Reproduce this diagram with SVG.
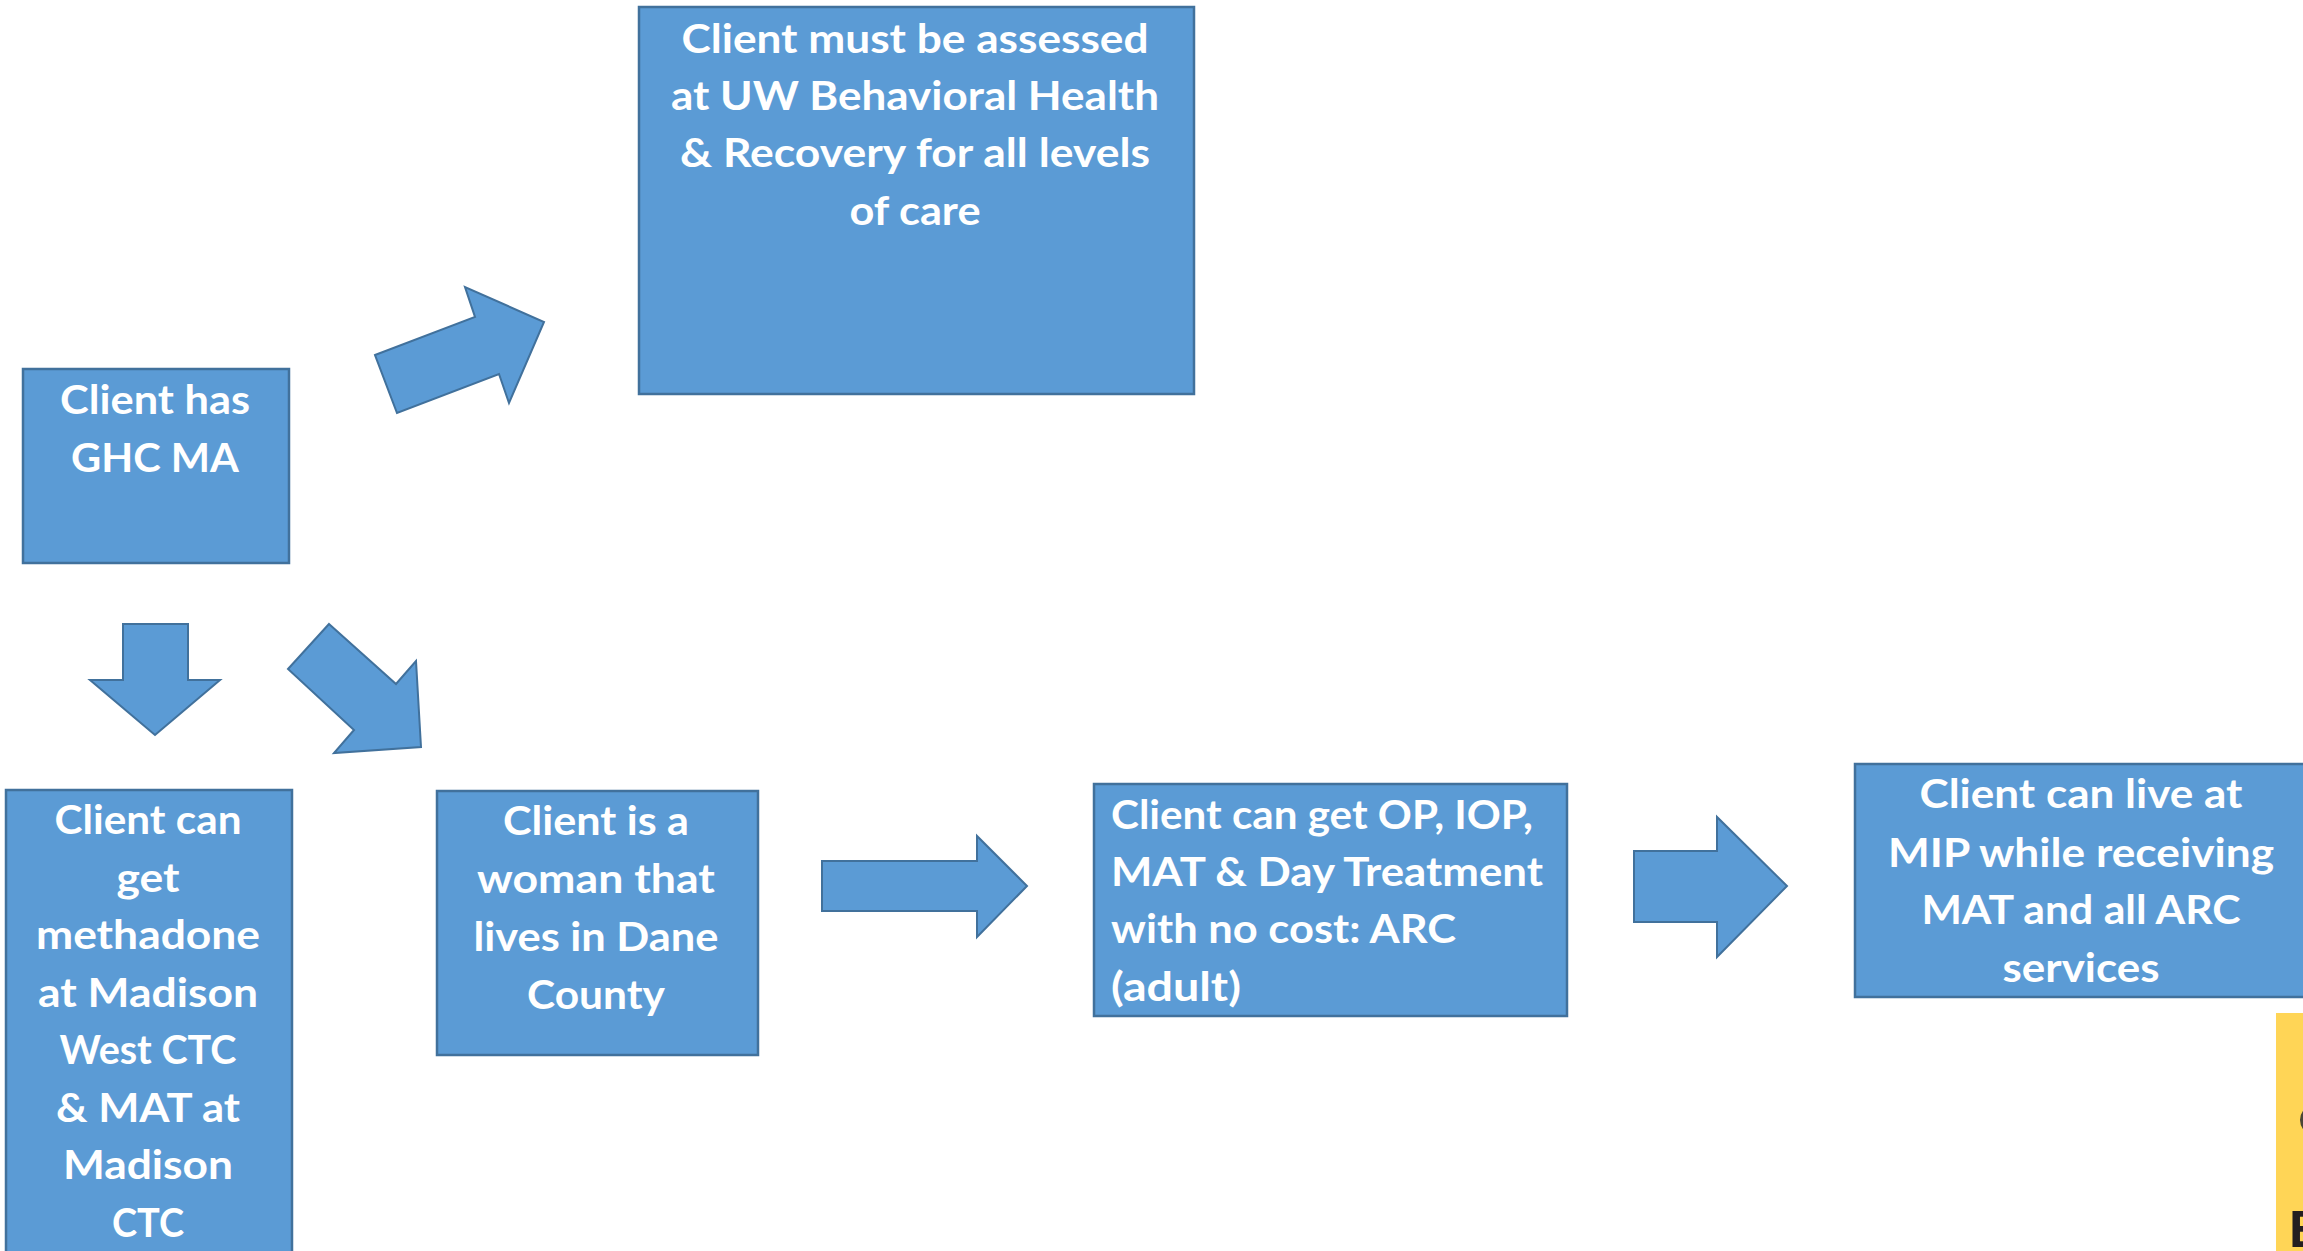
<svg xmlns="http://www.w3.org/2000/svg" width="2303" height="1251" viewBox="0 0 2303 1251">
<style>
.box{fill:#5B9BD5;stroke:#41719C;stroke-width:2.5}
.arrow{fill:#5B9BD5;stroke:#41719C;stroke-width:2;stroke-linejoin:miter}
.t{fill:#FFFFFF;font-family:Lato,"Open Sans","Liberation Sans",sans-serif;font-weight:700;font-size:40px}
.c{text-anchor:middle}
</style>
<rect x="0" y="0" width="2303" height="1251" fill="#FFFFFF"/>
<g id="connectors">
<polygon class="arrow" points="375,355 475,317 465,287 544,322 509,403 499,374 397,413"/>
<polygon class="arrow" points="123,624 188,624 188,680 220,680 155,735 90,680 123,680"/>
<polygon class="arrow" points="329,624 396,684 416,661 421,747 334,753 354,730 288,669"/>
<polygon class="arrow" points="822,861 977,861 977,836 1027,886 977,937 977,911 822,911"/>
<polygon class="arrow" points="1634,851 1717,851 1717,817 1787,886 1717,957 1717,922 1634,922"/>
</g>
<g id="node-ghc">
<rect class="box" x="23" y="369" width="266" height="194"/>
<text class="t c" x="155" y="414" textLength="190" lengthAdjust="spacingAndGlyphs">Client has</text>
<text class="t c" x="155" y="472" textLength="168" lengthAdjust="spacingAndGlyphs">GHC MA</text>
</g>
<g id="node-assessed">
<rect class="box" x="639" y="7" width="555" height="387"/>
<text class="t c" x="915" y="53" textLength="467" lengthAdjust="spacingAndGlyphs">Client must be assessed</text>
<text class="t c" x="915" y="110" textLength="488" lengthAdjust="spacingAndGlyphs">at UW Behavioral Health</text>
<text class="t c" x="915" y="167" textLength="470" lengthAdjust="spacingAndGlyphs">&amp; Recovery for all levels</text>
<text class="t c" x="915" y="225" textLength="131" lengthAdjust="spacingAndGlyphs">of care</text>
</g>
<g id="node-methadone">
<rect class="box" x="6" y="790" width="286" height="480"/>
<text class="t c" x="148" y="834" textLength="187" lengthAdjust="spacingAndGlyphs">Client can</text>
<text class="t c" x="148" y="892" textLength="63" lengthAdjust="spacingAndGlyphs">get</text>
<text class="t c" x="148" y="949" textLength="224" lengthAdjust="spacingAndGlyphs">methadone</text>
<text class="t c" x="148" y="1007" textLength="220" lengthAdjust="spacingAndGlyphs">at Madison</text>
<text class="t c" x="148" y="1064" textLength="177" lengthAdjust="spacingAndGlyphs">West CTC</text>
<text class="t c" x="148" y="1122" textLength="184" lengthAdjust="spacingAndGlyphs">&amp; MAT at</text>
<text class="t c" x="148" y="1179" textLength="170" lengthAdjust="spacingAndGlyphs">Madison</text>
<text class="t c" x="148" y="1237" textLength="72" lengthAdjust="spacingAndGlyphs">CTC</text>
</g>
<g id="node-woman">
<rect class="box" x="437" y="791" width="321" height="264"/>
<text class="t c" x="596" y="835" textLength="186" lengthAdjust="spacingAndGlyphs">Client is a</text>
<text class="t c" x="596" y="893" textLength="238" lengthAdjust="spacingAndGlyphs">woman that</text>
<text class="t c" x="596" y="951" textLength="245" lengthAdjust="spacingAndGlyphs">lives in Dane</text>
<text class="t c" x="596" y="1009" textLength="138" lengthAdjust="spacingAndGlyphs">County</text>
</g>
<g id="node-arc">
<rect class="box" x="1094" y="784" width="473" height="232"/>
<text class="t" x="1111" y="829" textLength="422" lengthAdjust="spacingAndGlyphs">Client can get OP, IOP,</text>
<text class="t" x="1111" y="886" textLength="432" lengthAdjust="spacingAndGlyphs">MAT &amp; Day Treatment</text>
<text class="t" x="1111" y="943" textLength="345" lengthAdjust="spacingAndGlyphs">with no cost: ARC</text>
<text class="t" x="1111" y="1001" textLength="130" lengthAdjust="spacingAndGlyphs">(adult)</text>
</g>
<g id="node-mip">
<rect class="box" x="1855" y="764" width="470" height="233"/>
<text class="t c" x="2081" y="808" textLength="323" lengthAdjust="spacingAndGlyphs">Client can live at</text>
<text class="t c" x="2081" y="867" textLength="386" lengthAdjust="spacingAndGlyphs">MIP while receiving</text>
<text class="t c" x="2081" y="924" textLength="319" lengthAdjust="spacingAndGlyphs">MAT and all ARC</text>
<text class="t c" x="2081" y="982" textLength="157" lengthAdjust="spacingAndGlyphs">services</text>
</g>
<g id="logo-fragment">
<rect x="2276" y="1013" width="40" height="250" fill="#FFD556"/>
<ellipse cx="2322" cy="1120" rx="20" ry="16" fill="none" stroke="#4a4636" stroke-width="4"/>
<text x="2289" y="1247" fill="#231F20" font-family="'Liberation Sans',Arial,sans-serif" font-weight="700" font-size="52">E</text>
</g>
</svg>
